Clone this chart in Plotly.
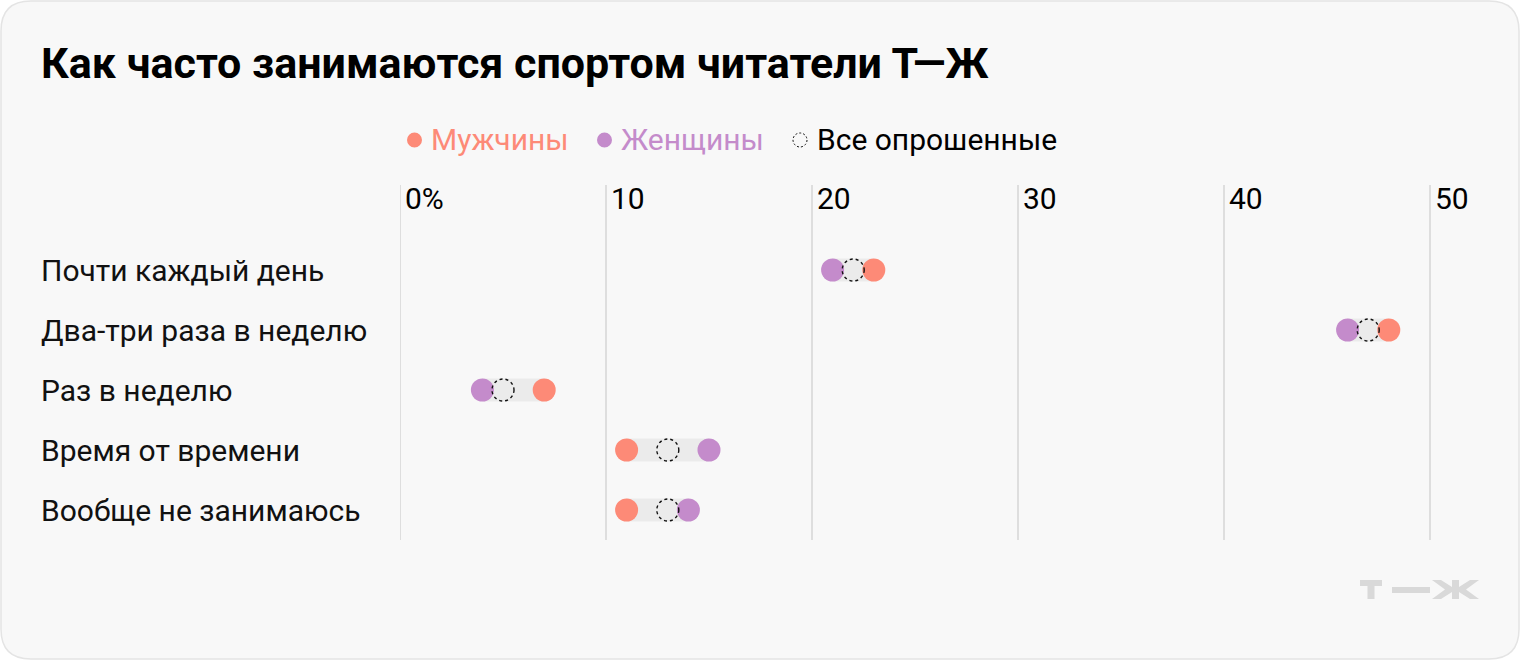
import plotly.graph_objects as go

categories = ["Почти каждый день", "Два-три раза в неделю", "Раз в неделю",
              "Время от времени", "Вообще не занимаюсь"]
men = [23, 48, 7, 11, 11]
women = [21, 46, 4, 15, 14]
all_resp = [22, 47, 5, 13, 13]
tick_vals = [0, 10, 20, 30, 40, 50]
tick_text = ["0%", "10", "20", "30", "40", "50"]
title = "Как часто занимаются спортом читатели Т—Ж"
legend_names = ["Мужчины", "Женщины", "Все опрошенные"]

MEN_C = "#FD8A77"
WOM_C = "#C48BCB"
BAR_C = "#EBEBEB"
GRID_C = "#DEDEDE"
LOGO_C = "#D9D9D9"
FONT = "Roboto"

W, H = 1520, 660
ML, MR, MT, MB = 400, 40, 185, 120
PW, PH = W - ML - MR, H - MT - MB
XMAX = PW / 20.6


def px(X):
    return (X - ML) / PW


def py(Y):
    return (H - MB - Y) / PH


ypos = list(range(len(categories)))

fig = go.Figure()

# connecting bars
bx, by = [], []
for i in ypos:
    lo = min(men[i], women[i], all_resp[i])
    hi = max(men[i], women[i], all_resp[i])
    bx += [lo, hi, None]
    by += [i, i, None]
fig.add_trace(go.Scatter(x=bx, y=by, mode="lines", line=dict(color=BAR_C, width=23),
                         hoverinfo="skip", showlegend=False))
fig.add_trace(go.Scatter(x=women, y=ypos, mode="markers", name=legend_names[1],
                         marker=dict(color=WOM_C, size=23, line=dict(width=0)),
                         showlegend=False))
fig.add_trace(go.Scatter(x=men, y=ypos, mode="markers", name=legend_names[0],
                         marker=dict(color=MEN_C, size=23, line=dict(width=0)),
                         showlegend=False))

shapes = []
# card background
r = 30
x0p, x1p, y0p, y1p = 1, W - 1, 1, H - 1
path = (f"M {px(x0p + r)},{py(y0p)} L {px(x1p - r)},{py(y0p)} "
        f"Q {px(x1p)},{py(y0p)} {px(x1p)},{py(y0p + r)} "
        f"L {px(x1p)},{py(y1p - r)} Q {px(x1p)},{py(y1p)} {px(x1p - r)},{py(y1p)} "
        f"L {px(x0p + r)},{py(y1p)} Q {px(x0p)},{py(y1p)} {px(x0p)},{py(y1p - r)} "
        f"L {px(x0p)},{py(y0p + r)} Q {px(x0p)},{py(y0p)} {px(x0p + r)},{py(y0p)} Z")
shapes.append(dict(type="path", xref="paper", yref="paper", path=path,
                   fillcolor="#F8F8F8", line=dict(color="#E4E4E4", width=1.5), layer="below"))

# gridline at zero (edge of plot)
shapes.append(dict(type="line", xref="x", yref="paper", x0=tick_vals[0], x1=tick_vals[0],
                   y0=0, y1=1, line=dict(color=GRID_C, width=2), layer="below"))

# dashed circles for all respondents
for i in ypos:
    shapes.append(dict(type="circle", xref="x", yref="y", xsizemode="pixel", ysizemode="pixel",
                       xanchor=all_resp[i], yanchor=i, x0=-11, x1=11, y0=-11, y1=11,
                       line=dict(color="#111111", width=1.4, dash="3px,3px"),
                       fillcolor="rgba(0,0,0,0)", layer="above"))

# legend symbols
LY = 140
for cx, col in [(414.5, MEN_C), (604.5, WOM_C)]:
    shapes.append(dict(type="circle", xref="paper", yref="paper", xsizemode="pixel",
                       ysizemode="pixel", xanchor=px(cx), yanchor=py(LY),
                       x0=-7.5, x1=7.5, y0=-7.5, y1=7.5, fillcolor=col, line=dict(width=0)))
shapes.append(dict(type="circle", xref="paper", yref="paper", xsizemode="pixel",
                   ysizemode="pixel", xanchor=px(800), yanchor=py(LY),
                   x0=-7, x1=7, y0=-7, y1=7, fillcolor="rgba(0,0,0,0)",
                   line=dict(color="#111111", width=1, dash="2px,2px")))

# logo Т—Ж drawn as shapes
def rect(xa, ya, xb, yb):
    shapes.append(dict(type="rect", xref="paper", yref="paper", x0=px(xa), x1=px(xb),
                       y0=py(yb), y1=py(ya), fillcolor=LOGO_C, line=dict(width=0)))


def poly(points):
    p = "M " + " L ".join(f"{px(a)},{py(b)}" for a, b in points) + " Z"
    shapes.append(dict(type="path", xref="paper", yref="paper", path=p,
                       fillcolor=LOGO_C, line=dict(width=0)))


rect(1360, 580, 1382, 586)      # Т top
rect(1367.5, 580, 1374.5, 599)  # Т stem
rect(1392, 587, 1430, 593)      # dash
rect(1452, 580, 1459, 599)      # Ж stem
poly([(1432, 580), (1441, 580), (1452, 587), (1452, 592), (1441, 599), (1432, 599),
      (1445, 589.5)])
poly([(1479, 580), (1470, 580), (1459, 587), (1459, 592), (1470, 599), (1479, 599),
      (1466, 589.5)])

annotations = []
annotations.append(dict(text=f"<b>{title}</b>", xref="paper", yref="paper", x=px(39), y=py(63),
                        xanchor="left", yanchor="middle", showarrow=False,
                        font=dict(family=FONT, size=43, color="#000000")))
for tx, name, col in [(429, legend_names[0], MEN_C), (619, legend_names[1], WOM_C),
                      (815, legend_names[2], "#000000")]:
    annotations.append(dict(text=name, xref="paper", yref="paper", x=px(tx), y=py(LY),
                            xanchor="left", yanchor="middle", showarrow=False,
                            font=dict(family=FONT, size=30, color=col)))
for v, t in zip(tick_vals, tick_text):
    annotations.append(dict(text=t, xref="x", yref="paper", x=v, y=py(199), xshift=3,
                            xanchor="left", yanchor="middle", showarrow=False,
                            font=dict(family=FONT, size=30, color="#000000")))
for i, c in zip(ypos, categories):
    annotations.append(dict(text=c, xref="paper", yref="y", x=px(39), y=i,
                            xanchor="left", yanchor="middle", showarrow=False,
                            font=dict(family=FONT, size=30, color="#111111")))

fig.update_layout(
    width=W, height=H,
    margin=dict(l=ML, r=MR, t=MT, b=MB),
    paper_bgcolor="#FFFFFF", plot_bgcolor="rgba(0,0,0,0)",
    shapes=shapes, annotations=annotations,
    showlegend=False,
    xaxis=dict(range=[0, XMAX], tickvals=tick_vals, showticklabels=False, showgrid=True,
               gridcolor=GRID_C, gridwidth=2, zeroline=False, showline=False, fixedrange=True),
    yaxis=dict(range=[len(categories) - 0.5, -1 - 25 / 60], showticklabels=False, showgrid=False,
               zeroline=False, showline=False, fixedrange=True),
)

fig.write_html("out.html", config={"displayModeBar": False})
